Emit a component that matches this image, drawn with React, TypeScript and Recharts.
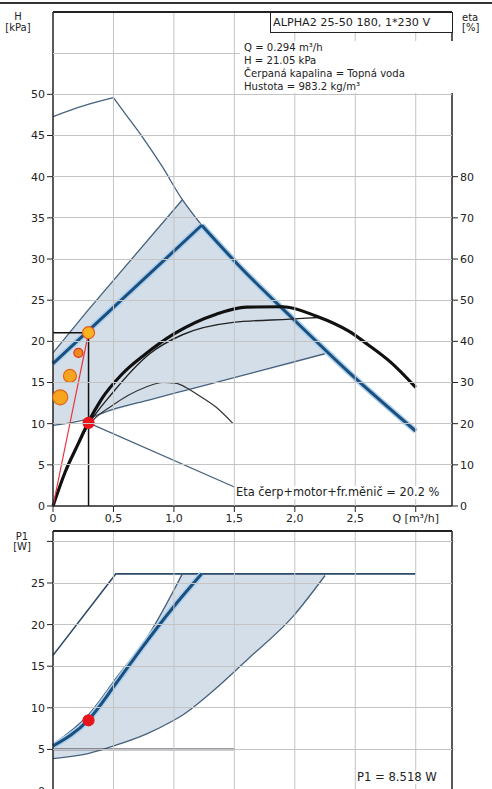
import React from 'react';
import { ComposedChart, Line, Area, Scatter, XAxis, YAxis } from 'recharts';

const FONT = '"DejaVu Sans", Verdana, sans-serif';
const DARK = '#222';
const GRID = '#c4c4c4';
const THIN = '#46617e';
const BLUE = '#1d4f7c';
const HALO = '#a9d0f0';
const FILL = '#9fb6cf';

// plot frame (px inside each svg)
const PLOT_L = 53;
const PLOT_W = 399;
const TOP_T = 12, TOP_B = 506;
const BOT_Y = 521, BOT_T = 10, BOT_B = 270;

// shared Q axis
const qMax = 3.3;
const qTicks = [0, 0.5, 1, 1.5, 2, 2.5, 3];
const qTickLabels = ['0', '0,5', '1,0', '1,5', '2,0', '2,5', 'Q [m³/h]'];

// top chart: H [kPa] / eta [%]
const hMax = 60;
const hTicks = [0, 5, 10, 15, 20, 25, 30, 35, 40, 45, 50];
const hGrid = [5, 10, 15, 20, 25, 30, 35, 40, 45, 50, 55];
const etaTicks = [0, 10, 20, 30, 40, 50, 60, 70, 80];

// shaded AUTOADAPT area
const bandQ = [0, 0.29, 0.8, 1.07, 1.23, 1.55, 1.98, 2.25];
const bandLow = [9.8, 10.7, 12.9, 14.0, 14.5, 15.7, 17.3, 18.5];
const bandHigh = [18.6, 23.8, 32.6, 37.2, 34.1, 29.0, 22.8, 19.0];

// max curve
const maxRiseQ = [0, 0.25, 0.5];
const maxRiseH = [47.3, 48.6, 49.6];
const maxFallQ = [0.5, 0.6, 0.74, 0.9, 1.07, 1.23];
const maxFallH = [49.6, 47.6, 44.8, 41.3, 37.2, 34.1];

// selected proportional pressure curve
const riseQ = [0, 1.23];
const riseH = [17.3, 34.1];
const fallQ = [1.23, 1.55, 1.98, 2.45, 3.0];
const fallH = [34.1, 29.0, 22.8, 16.2, 9.1];

const upperQ = [0, 0.29, 1.07];
const upperH = [18.6, 23.8, 37.2];

const lowerQ = [0, 0.24, 0.49, 0.8, 1.16, 2.25];
const lowerH = [9.8, 10.4, 11.7, 12.9, 14.3, 18.5];

// efficiency curves
const etaTotQ = [0, 0.1, 0.21, 0.29, 0.4, 0.57, 0.76, 1.0, 1.35, 1.6, 1.9, 2.18, 2.45, 2.6, 2.79, 3.0];
const etaTot = [0, 8.2, 15.2, 20.2, 25.9, 32.0, 36.8, 41.8, 46.6, 48.3, 48.4, 46.1, 42.4, 39.3, 35.0, 28.8];
const etaPumpQ = [0, 0.1, 0.29, 0.49, 0.8, 1.07, 1.49, 1.96, 2.2];
const etaPump = [0, 8.0, 19.6, 27.4, 37.0, 41.6, 44.6, 45.4, 45.8];
const etaLowQ = [0, 0.1, 0.29, 0.49, 0.76, 0.91, 1.02, 1.1, 1.21, 1.35, 1.49];
const etaLow = [0, 8.0, 19.4, 24.4, 28.8, 30.0, 29.8, 28.8, 26.8, 24.0, 20.0];

// duty point
const dutyQ = 0.294;
const dutyH = 21.05;
const dutyEtaH = 10.1;
const leaderQ = [0.294, 1.5];
const leaderH = [10.1, 2.3];
const systemQ = [0, 0.294];
const systemH = [0, 21.05];
const loadQ = [0.06, 0.14, 0.21];
const loadH = [13.2, 15.8, 18.6];

// bottom chart: P1 [W]
const pMaxY = 31.25;
const pTicks = [0, 5, 10, 15, 20, 25, 30];
const pGrid = [5, 10, 15, 20, 25, 30];
const pBandQ = [0, 0.29, 0.52, 0.78, 1.0, 1.07, 1.33, 1.63, 1.98, 2.25];
const pBandLow = [3.9, 4.5, 5.5, 6.9, 8.5, 9.1, 12.1, 16.1, 20.9, 25.9];
const pBandHigh = [5.6, 9.1, 13.6, 18.5, 24.0, 26.1, 26.1, 26.1, 26.1, 26.1];
const pCurveQ = [0, 0.29, 0.52, 0.74, 0.99, 1.23];
const pCurve = [5.4, 8.5, 12.9, 17.3, 22.0, 26.1];
const pMaxQ = [0, 0.52, 3.0];
const pMax = [16.3, 26.1, 26.1];
const pUpperQ = [0, 0.29, 0.53, 0.78, 1.07];
const pUpper = [5.6, 9.1, 13.7, 18.5, 26.1];
const pMinQ = [0, 1.5];
const pMin = [5.0, 5.0];
const dutyP = 8.5;

const pts = (q: number[], v: number[]) => q.map((x, i) => ({ q: x, v: v[i] }));
const band = (q: number[], lo: number[], hi: number[]) => q.map((x, i) => ({ q: x, band: [lo[i], hi[i]] }));

const tickStyle = { fill: DARK, fontSize: 11, fontFamily: FONT };
const axisStyle = { stroke: DARK, strokeWidth: 1.5 };

const dot = (r: number, fill: string, stroke: string) => (p: any) =>
    <circle cx={p.cx} cy={p.cy} r={r} fill={fill} stroke={stroke} strokeWidth={1.2} />;

// x ticks also draw the vertical grid
const xTick = (top: number, bottom: number, labels: boolean) => (p: any) => {
    const v = p.payload.value;
    return (
        <g>
            {v > 0 && <line x1={p.x} x2={p.x} y1={top} y2={bottom} stroke={GRID} strokeWidth={1} />}
            <line x1={p.x} x2={p.x} y1={bottom} y2={bottom + 6} stroke={DARK} strokeWidth={1} />
            {labels && <text x={p.x} y={bottom + 8} dy="0.71em" textAnchor="middle" {...tickStyle}>{qTickLabels[qTicks.indexOf(v)]}</text>}
        </g>
    );
};

// horizontal grid rows as page-level rules (same linear mapping as the y axes)
const rowTop = (v: number) => TOP_B - (v / hMax) * (TOP_B - TOP_T);
const rowBot = (v: number) => BOT_Y + BOT_B - (v / pMaxY) * (BOT_B - BOT_T);
const rule = (y: number, color: string, h: number, key: string) =>
    <div key={key} style={{ position: 'absolute', left: PLOT_L, top: Math.round(y - h / 2), width: PLOT_W, height: h, background: color, pointerEvents: 'none' }} />;

const txt: React.CSSProperties = { position: 'absolute', fontSize: 10, color: DARK, whiteSpace: 'nowrap', lineHeight: '13px' };

function curve(q: number[], v: number[], stroke: string, width: number, type: any = 'linear', axis?: string) {
    return <Line yAxisId={axis ?? 0} data={pts(q, v)} dataKey="v" type={type} stroke={stroke} strokeWidth={width}
        dot={false} activeDot={false} isAnimationActive={false} />;
}

export default function App() {
    return (
        <div style={{ position: 'absolute', left: 0, top: 0, width: 492, height: 789, overflow: 'hidden', background: '#fff', fontFamily: FONT }}>
            <div style={{ position: 'absolute', left: 0, top: 0 }}>
                <ComposedChart width={492} height={526} data={band(bandQ, bandLow, bandHigh)} margin={{ top: 12, right: 0, bottom: 0, left: 0 }}>
                    <XAxis dataKey="q" type="number" domain={[0, qMax]} ticks={qTicks} interval={0} height={20}
                        tick={xTick(TOP_T, TOP_B, true)} tickLine={false} axisLine={axisStyle} />
                    <YAxis type="number" domain={[0, hMax]} ticks={hTicks} interval={0} width={53}
                        tick={tickStyle} tickLine={{ stroke: DARK }} axisLine={axisStyle} />
                    <YAxis yAxisId="eta" orientation="right" type="number" domain={[0, 120]} ticks={etaTicks} interval={0} width={40}
                        tick={tickStyle} tickLine={{ stroke: DARK }} axisLine={axisStyle} />

                    <Area dataKey="band" type="linear" fill={FILL} fillOpacity={0.45} stroke="none" isAnimationActive={false} />

                    {curve(maxRiseQ, maxRiseH, THIN, 1.3, 'monotone')}
                    {curve(maxFallQ, maxFallH, THIN, 1.3, 'monotone')}
                    {curve(upperQ, upperH, THIN, 1.3)}
                    {curve(lowerQ, lowerH, THIN, 1.3, 'monotone')}
                    {curve(leaderQ, leaderH, THIN, 1.2)}

                    {curve(riseQ, riseH, HALO, 6)}
                    {curve(fallQ, fallH, HALO, 6, 'monotone')}
                    {curve(riseQ, riseH, BLUE, 3)}
                    {curve(fallQ, fallH, BLUE, 3, 'monotone')}

                    {curve(etaLowQ, etaLow, '#333', 1.2, 'monotone', 'eta')}
                    {curve(etaPumpQ, etaPump, '#222', 1.4, 'monotone', 'eta')}
                    {curve(etaTotQ, etaTot, '#111', 3.2, 'monotone', 'eta')}

                    {curve(systemQ, systemH, '#e8333a', 1.2)}
                    {curve([0, dutyQ, dutyQ], [dutyH, dutyH, 0], '#111', 1.5)}

                    <Scatter data={pts([loadQ[0]], [loadH[0]])} dataKey="v" shape={dot(7.5, '#f7a51e', '#e0661c')} isAnimationActive={false} />
                    <Scatter data={pts([loadQ[1]], [loadH[1]])} dataKey="v" shape={dot(6.5, '#f7a51e', '#e0661c')} isAnimationActive={false} />
                    <Scatter data={pts([loadQ[2]], [loadH[2]])} dataKey="v" shape={dot(4.5, '#f08a1e', '#e0301c')} isAnimationActive={false} />
                    <Scatter data={pts([dutyQ], [dutyH])} dataKey="v" shape={dot(6, '#f7b21e', '#e8571b')} isAnimationActive={false} />
                    <Scatter data={pts([dutyQ], [dutyEtaH])} dataKey="v" shape={dot(5.5, '#e8141c', '#e8141c')} isAnimationActive={false} />
                </ComposedChart>
            </div>

            <div style={{ position: 'absolute', left: 0, top: BOT_Y }}>
                <ComposedChart width={492} height={290} data={band(pBandQ, pBandLow, pBandHigh)} margin={{ top: BOT_T, right: 0, bottom: 0, left: 0 }}>
                    <XAxis dataKey="q" type="number" domain={[0, qMax]} ticks={qTicks} interval={0} height={20}
                        tick={xTick(BOT_T, BOT_B, false)} tickLine={false} axisLine={axisStyle} />
                    <YAxis type="number" domain={[0, pMaxY]} ticks={pTicks} interval={0} width={53}
                        tickFormatter={(v: number) => (v === 30 ? '' : String(v))}
                        tick={tickStyle} tickLine={{ stroke: DARK }} axisLine={axisStyle} />
                    <YAxis yAxisId="r" orientation="right" type="number" domain={[0, 1]} width={40} tick={false} tickLine={false} axisLine={axisStyle} />

                    <Area dataKey="band" type="monotone" fill={FILL} fillOpacity={0.45} stroke="none" isAnimationActive={false} />

                    {curve(pMaxQ, pMax, '#2c4a68', 1.6)}
                    {curve(pUpperQ, pUpper, THIN, 1.3, 'monotone')}
                    {curve(pBandQ, pBandLow, THIN, 1.3, 'monotone')}
                    {curve(pMinQ, pMin, '#334', 1.6)}
                    {curve(pCurveQ, pCurve, HALO, 6, 'monotone')}
                    {curve(pCurveQ, pCurve, BLUE, 3, 'monotone')}

                    <Scatter data={pts([dutyQ], [dutyP])} dataKey="v" shape={dot(5.5, '#e8141c', '#e8141c')} isAnimationActive={false} />
                </ComposedChart>
            </div>

            {/* grid rows, frames + labels */}
            {hGrid.map((v) => rule(rowTop(v), GRID, 1, 'h' + v))}
            {pGrid.map((v) => rule(rowBot(v), GRID, 1, 'p' + v))}
            <div style={{ position: 'absolute', left: 0, top: 2, width: 492, height: 2, background: '#333' }} />
            {rule(rowTop(hMax), DARK, 2, 'topFrame')}
            {rule(rowBot(pMaxY), DARK, 2, 'botFrame')}
            <div style={{ ...txt, left: 0, width: 36, top: 10, textAlign: 'center' }}>H</div>
            <div style={{ ...txt, left: 0, width: 36, top: 21, textAlign: 'center' }}>[kPa]</div>
            <div style={{ ...txt, left: 462, top: 11 }}>eta</div>
            <div style={{ ...txt, left: 462, top: 21 }}>[%]</div>

            <div style={{ ...txt, left: 270, top: 12, width: 179, height: 19, border: '1.5px solid #222', background: '#fff', paddingLeft: 2, lineHeight: '19px', fontSize: 11.2 }}>
                ALPHA2 25-50 180, 1*230 V
            </div>
            <div style={{ ...txt, left: 240, top: 41, width: 210, background: '#fff', paddingLeft: 4, fontSize: 10.1 }}>
                <div>Q = 0.294 m³/h</div>
                <div>H = 21.05 kPa</div>
                <div>Čerpaná kapalina = Topná voda</div>
                <div>Hustota = 983.2 kg/m³</div>
            </div>
            <div style={{ ...txt, left: 236, top: 486, background: '#fff', fontSize: 11.4 }}>Eta čerp+motor+fr.měnič = 20.2 %</div>

            <div style={{ ...txt, left: 0, width: 44, top: 530, textAlign: 'center' }}>P1</div>
            <div style={{ ...txt, left: 0, width: 44, top: 540, textAlign: 'center' }}>[W]</div>
            <div style={{ ...txt, left: 357, top: 771, background: '#fff', fontSize: 11.6 }}>P1 = 8.518 W</div>
        </div>
    );
}
